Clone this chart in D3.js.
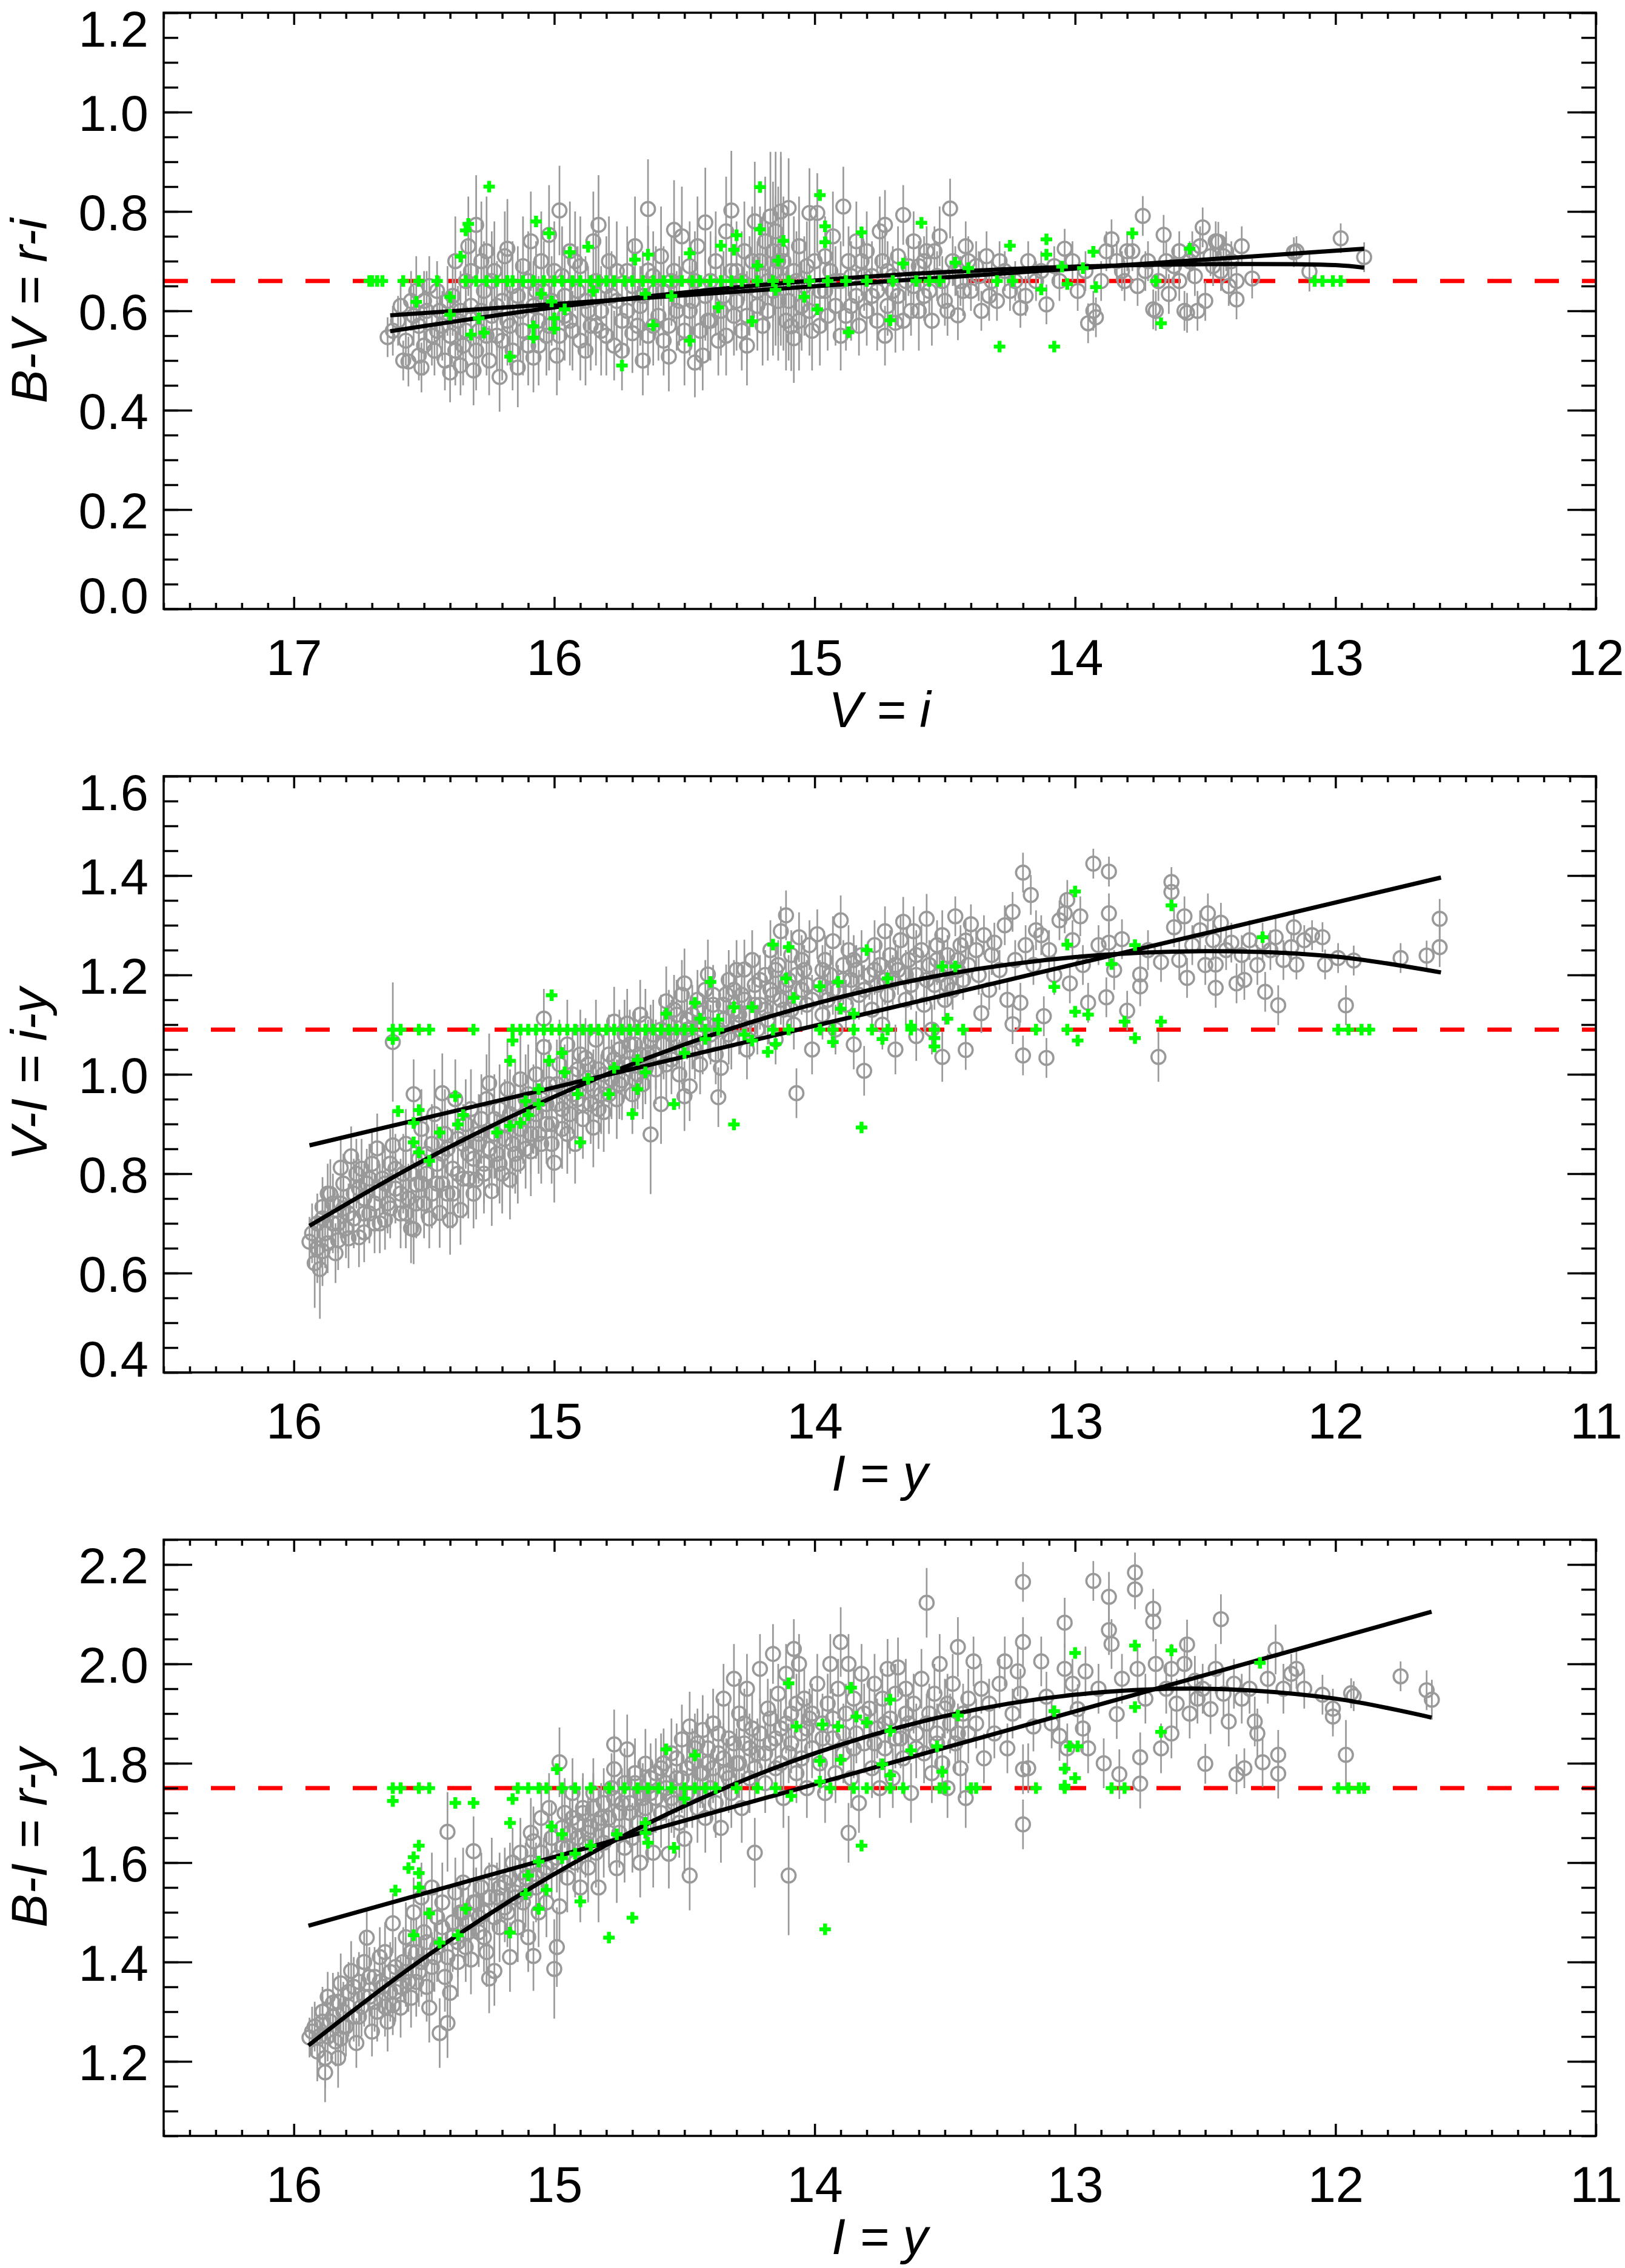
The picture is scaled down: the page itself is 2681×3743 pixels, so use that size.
<!DOCTYPE html>
<html>
<head>
<meta charset="utf-8">
<title>Colour-magnitude relations</title>
<script src="https://d3js.org/d3.v7.min.js"></script>
<style>
  body { margin: 0; background: #fff; }
  svg { display: block; }
</style>
</head>
<body>
<svg width="2681" height="3743"></svg>
<script>
// ---------- data ----------
// panel 1 : B-V = r-i  against  V = i
const xTicks1 = [17, 16, 15, 14, 13, 12];
const yTicks1 = [0.0, 0.2, 0.4, 0.6, 0.8, 1.0, 1.2];
const refLevel1 = 0.66;
const linFit1 = [[16.63,0.591],[12.89,0.725]];
const quadFit1 = [[16.63,0.559],[16.0,0.607],[15.5,0.637],[15.0,0.661],[14.5,0.678],[14.0,0.689],[13.5,0.694],[13.0,0.692],[12.89,0.687]];
// [x, y, error]
const gray1 = [
[16.64,0.547,0.04],[16.60,0.58,0.05],[16.58,0.50,0.04],[16.56,0.498,0.05],[16.55,0.62,0.06],[16.53,0.64,0.07],[16.52,0.57,0.05],[16.51,0.486,0.05],[16.50,0.53,0.06],[16.49,0.60,0.08],
[16.48,0.65,0.06],[16.46,0.52,0.05],[16.45,0.56,0.06],[16.44,0.60,0.07],[16.42,0.50,0.06],[16.40,0.476,0.06],[16.40,0.55,0.07],[16.39,0.63,0.08],[16.38,0.70,0.09],[16.37,0.58,0.07],
[16.36,0.49,0.06],[16.35,0.53,0.08],[16.34,0.66,0.08],[16.33,0.73,0.1],[16.32,0.61,0.08],[16.31,0.48,0.07],[16.30,0.773,0.1],[16.29,0.56,0.09],[16.28,0.70,0.12],[16.27,0.64,0.1],
[16.26,0.72,0.11],[16.25,0.50,0.07],[16.24,0.59,0.08],[16.23,0.68,0.1],[16.22,0.55,0.07],[16.21,0.467,0.07],[16.20,0.62,0.1],[16.19,0.71,0.09],[16.18,0.725,0.1],[16.17,0.57,0.08],
[16.16,0.65,0.09],[16.14,0.486,0.08],[16.13,0.60,0.1],[16.12,0.69,0.1],[16.10,0.53,0.08],[16.09,0.74,0.1],[16.08,0.506,0.07],[16.07,0.64,0.1],[16.06,0.58,0.09],[16.05,0.70,0.1],
[16.03,0.55,0.08],[16.02,0.753,0.1],[16.01,0.62,0.09],[15.99,0.51,0.08],[15.98,0.802,0.09],[15.97,0.67,0.1],[15.96,0.59,0.09],[15.94,0.72,0.1],[15.93,0.56,0.08],[15.91,0.64,0.09],
[15.90,0.69,0.1],[15.88,0.52,0.07],[15.87,0.60,0.09],[15.85,0.74,0.1],[15.84,0.57,0.08],[15.83,0.773,0.1],[15.82,0.56,0.09],[15.80,0.65,0.1],[15.79,0.70,0.09],[15.77,0.53,0.07],
[15.76,0.62,0.08],[15.74,0.58,0.08],[15.72,0.68,0.09],[15.70,0.555,0.08],[15.69,0.73,0.1],[15.67,0.61,0.08],[15.66,0.50,0.07],[15.64,0.805,0.1],[15.64,0.681,0.09],[15.62,0.57,0.08],
[15.61,0.64,0.09],[15.59,0.71,0.1],[15.58,0.54,0.07],[15.56,0.508,0.07],[15.55,0.66,0.09],[15.54,0.763,0.1],[15.53,0.60,0.08],[15.51,0.75,0.1],[15.50,0.56,0.07],[15.48,0.69,0.09],
[15.47,0.62,0.08],[15.46,0.496,0.07],[15.45,0.73,0.1],[15.43,0.51,0.07],[15.42,0.778,0.11],[15.41,0.58,0.08],[15.40,0.66,0.1],[15.38,0.70,0.1],[15.37,0.54,0.07],[15.35,0.63,0.09],
[15.34,0.76,0.11],[15.32,0.802,0.12],[15.31,0.59,0.08],[15.30,0.68,0.1],[15.28,0.56,0.08],[15.27,0.72,0.1],[15.26,0.53,0.08],[15.25,0.65,0.1],[15.23,0.78,0.12],[15.22,0.61,0.09],
[15.21,0.70,0.11],[15.20,0.57,0.08],[15.19,0.74,0.13],[15.18,0.66,0.12],[15.17,0.79,0.13],[15.16,0.72,0.14],[15.15,0.68,0.15],[15.15,0.76,0.16],[15.14,0.62,0.12],[15.13,0.80,0.12],
[15.13,0.72,0.19],[15.12,0.70,0.13],[15.11,0.58,0.1],[15.10,0.807,0.1],[15.09,0.569,0.09],[15.08,0.545,0.09],[15.07,0.66,0.1],[15.06,0.73,0.1],[15.05,0.61,0.09],[15.03,0.69,0.09],
[15.02,0.797,0.09],[15.01,0.56,0.08],[14.99,0.797,0.08],[14.98,0.64,0.08],[14.96,0.71,0.08],[14.95,0.59,0.07],[14.93,0.75,0.09],[14.92,0.66,0.07],[14.90,0.55,0.07],[14.89,0.81,0.08],
[14.87,0.70,0.07],[14.86,0.61,0.07],[14.84,0.74,0.08],[14.83,0.57,0.06],[14.81,0.67,0.07],[14.80,0.72,0.08],[14.78,0.63,0.06],[14.76,0.58,0.06],[14.75,0.76,0.07],[14.73,0.773,0.07],
[14.73,0.55,0.06],[14.72,0.68,0.06],[14.70,0.64,0.06],[14.69,0.576,0.06],[14.68,0.71,0.06],[14.66,0.793,0.06],[14.65,0.66,0.05],[14.63,0.60,0.05],[14.62,0.74,0.06],[14.60,0.69,0.05],
[14.60,0.60,0.08],[14.58,0.63,0.05],[14.57,0.72,0.05],[14.55,0.58,0.05],[14.53,0.67,0.05],[14.52,0.75,0.06],[14.50,0.62,0.05],[14.48,0.806,0.06],[14.47,0.70,0.05],[14.45,0.591,0.05],
[14.44,0.66,0.05],[14.42,0.73,0.05],[14.40,0.64,0.04],[14.38,0.69,0.05],[14.36,0.60,0.04],[14.34,0.71,0.05],[14.32,0.66,0.04],[14.30,0.62,0.04],[14.27,0.68,0.04],[14.25,0.64,0.04],
[14.21,0.606,0.04],[14.18,0.70,0.04],[14.15,0.66,0.04],[14.11,0.613,0.04],[14.08,0.69,0.04],[14.04,0.725,0.04],[13.99,0.64,0.04],[13.95,0.575,0.04],[13.93,0.60,0.04],[13.92,0.587,0.04],
[13.90,0.66,0.04],[13.86,0.744,0.04],[13.84,0.70,0.04],[13.82,0.68,0.04],[13.80,0.72,0.04],[13.78,0.72,0.04],[13.76,0.65,0.04],[13.74,0.791,0.04],[13.72,0.70,0.04],[13.70,0.603,0.04],
[13.69,0.60,0.04],[13.68,0.66,0.04],[13.66,0.753,0.04],[13.64,0.634,0.04],[13.62,0.69,0.04],[13.60,0.72,0.04],[13.58,0.60,0.04],[13.57,0.596,0.04],[13.56,0.70,0.04],[13.54,0.67,0.04],
[13.52,0.73,0.04],[13.51,0.768,0.04],[13.50,0.62,0.04],[13.48,0.71,0.04],[13.46,0.74,0.04],[13.45,0.739,0.04],[13.44,0.68,0.04],[13.42,0.72,0.04],[13.40,0.70,0.04],[13.38,0.623,0.04],
[13.38,0.66,0.04],[13.36,0.73,0.04],[13.32,0.665,0.04],[13.16,0.718,0.03],[13.15,0.72,0.03],[13.10,0.679,0.04],[12.98,0.746,0.03],[12.89,0.708,0.03],
[16.62,0.56,0.05],[16.59,0.61,0.05],[16.57,0.54,0.05],[16.54,0.59,0.06],[16.52,0.51,0.05],[16.50,0.62,0.06],[16.47,0.55,0.06],[16.45,0.64,0.06],[16.43,0.57,0.07],[16.41,0.62,0.07],
[16.38,0.52,0.07],[16.36,0.60,0.08],[16.34,0.56,0.08],[16.32,0.68,0.09],[16.30,0.52,0.08],[16.28,0.60,0.09],[16.26,0.55,0.08],[16.24,0.66,0.1],[16.22,0.61,0.09],[16.20,0.54,0.08],
[16.18,0.58,0.09],[16.16,0.52,0.08],[16.14,0.63,0.1],[16.12,0.56,0.09],[16.10,0.66,0.1],[16.08,0.61,0.09],[16.06,0.53,0.08],[16.04,0.64,0.1],[16.02,0.57,0.09],[16.00,0.68,0.1],
[15.98,0.55,0.09],[15.96,0.63,0.1],[15.94,0.58,0.09],[15.92,0.70,0.1],[15.90,0.54,0.08],[15.88,0.62,0.09],[15.86,0.57,0.09],[15.84,0.66,0.1],[15.82,0.60,0.09],[15.80,0.55,0.08],
[15.78,0.63,0.09],[15.76,0.68,0.1],[15.74,0.52,0.08],[15.72,0.60,0.09],[15.70,0.65,0.09],[15.68,0.57,0.08],[15.66,0.63,0.09],[15.64,0.55,0.08],[15.62,0.67,0.09],[15.60,0.59,0.09],
[15.58,0.64,0.09],[15.56,0.57,0.08],[15.54,0.68,0.1],[15.52,0.62,0.09],[15.50,0.53,0.08],[15.48,0.60,0.09],[15.46,0.66,0.1],[15.44,0.56,0.08],[15.42,0.63,0.09],[15.40,0.58,0.08],
[15.38,0.65,0.1],[15.36,0.60,0.09],[15.34,0.55,0.08],[15.32,0.68,0.1],[15.30,0.62,0.1],[15.28,0.66,0.1],[15.26,0.59,0.09],[15.24,0.70,0.11],[15.22,0.64,0.1],[15.20,0.67,0.12],
[15.18,0.60,0.1],[15.16,0.64,0.13],[15.14,0.70,0.15],[15.12,0.66,0.14],[15.10,0.62,0.12],[15.08,0.68,0.11],[15.06,0.58,0.1],[15.04,0.65,0.1],[15.02,0.60,0.09],[15.00,0.70,0.09],
[14.98,0.57,0.08],[14.96,0.64,0.08],[14.94,0.68,0.08],[14.92,0.61,0.08],[14.90,0.66,0.08],[14.88,0.59,0.07],[14.86,0.67,0.07],[14.84,0.63,0.07],[14.82,0.70,0.07],[14.80,0.60,0.07],
[14.78,0.67,0.07],[14.76,0.64,0.07],[14.74,0.70,0.06],[14.72,0.61,0.06],[14.70,0.67,0.06],[14.68,0.63,0.06],[14.66,0.58,0.06],[14.64,0.69,0.06],[14.62,0.65,0.06],[14.58,0.70,0.05],
[14.56,0.64,0.05],[14.54,0.72,0.05],[14.51,0.66,0.05],[14.49,0.60,0.05],[14.46,0.68,0.05],[14.43,0.64,0.05],[14.41,0.70,0.05],[14.37,0.67,0.05],[14.33,0.63,0.05],[14.29,0.70,0.04],
[14.23,0.66,0.04],[14.19,0.63,0.04],[14.13,0.68,0.04],[14.06,0.66,0.04],[14.01,0.70,0.04],[13.96,0.68,0.04],[13.88,0.72,0.04],[13.81,0.66,0.04],[13.73,0.68,0.04],[13.65,0.70,0.04],
[13.60,0.66,0.04],[13.55,0.72,0.04],[13.53,0.60,0.04],[13.47,0.69,0.04],[13.43,0.71,0.04],[13.41,0.65,0.04]
];
// [x, y]
const green1 = [
[16.71,0.66],[16.70,0.66],[16.68,0.66],[16.66,0.66],[16.58,0.66],[16.52,0.66],[16.45,0.66],[16.34,0.66],[16.30,0.66],[16.26,0.66],
[16.22,0.66],[16.18,0.66],[16.16,0.66],[16.12,0.66],[16.08,0.66],[16.04,0.66],[16.00,0.66],[15.97,0.66],[15.93,0.66],[15.90,0.66],
[15.86,0.66],[15.83,0.66],[15.80,0.66],[15.77,0.66],[15.73,0.66],[15.70,0.66],[15.66,0.66],[15.62,0.66],[15.58,0.66],[15.55,0.66],
[15.51,0.66],[15.47,0.66],[15.44,0.66],[15.40,0.66],[15.36,0.66],[15.32,0.66],[15.28,0.66],[15.22,0.66],[15.16,0.66],[15.10,0.66],
[15.02,0.66],[14.95,0.66],[14.88,0.66],[14.80,0.66],[14.70,0.66],[14.61,0.66],[14.56,0.66],[14.52,0.66],[14.30,0.66],[14.24,0.66],
[13.69,0.66],[13.08,0.66],[13.05,0.66],[13.01,0.66],[12.98,0.66],
[16.25,0.85],[16.33,0.775],[16.34,0.762],[16.07,0.78],[16.02,0.756],[16.36,0.709],[15.94,0.718],[15.87,0.729],[15.21,0.849],[14.98,0.833],
[15.30,0.752],[15.21,0.764],[15.36,0.731],[15.31,0.723],[15.12,0.741],[14.96,0.77],[14.96,0.738],[14.82,0.758],[14.59,0.777],[15.48,0.716],
[15.69,0.703],[15.64,0.713],[15.22,0.691],[15.14,0.701],[14.66,0.695],[16.53,0.618],[16.40,0.592],[16.40,0.628],[16.29,0.585],[16.32,0.552],
[16.27,0.556],[16.08,0.569],[16.08,0.546],[16.00,0.585],[16.00,0.564],[15.96,0.603],[16.17,0.508],[16.05,0.634],[16.01,0.619],[15.85,0.64],
[15.65,0.634],[15.62,0.571],[15.55,0.63],[15.48,0.54],[15.37,0.607],[15.24,0.579],[15.15,0.642],[15.04,0.628],[14.99,0.603],[14.87,0.557],
[14.71,0.581],[14.11,0.744],[14.11,0.713],[14.25,0.731],[13.78,0.756],[13.93,0.719],[13.56,0.725],[14.46,0.697],[14.41,0.686],[14.05,0.689],
[13.97,0.686],[14.13,0.643],[14.03,0.654],[13.92,0.648],[13.67,0.575],[14.29,0.528],[14.08,0.528],[15.74,0.49]
];

// panel 2 : V-I = i-y  against  I = y
const xTicks2 = [16, 15, 14, 13, 12, 11];
const yTicks2 = [0.4, 0.6, 0.8, 1.0, 1.2, 1.4, 1.6];
const refLevel2 = 1.09;
const linFit2 = [[15.94,0.857],[11.595,1.396]];
const quadFit2 = [[15.94,0.695],[15.5,0.827],[15.0,0.955],[14.5,1.060],[14.0,1.142],[13.5,1.201],[13.0,1.236],[12.5,1.248],[12.0,1.237],[11.595,1.205]];
const gray2 = [
[15.94,0.663,0.05],[15.92,0.62,0.09],[15.91,0.70,0.06],[15.90,0.608,0.1],[15.89,0.644,0.07],[15.89,0.733,0.06],[15.88,0.68,0.07],[15.87,0.76,0.06],[15.86,0.759,0.07],[15.85,0.70,0.06],
[15.84,0.64,0.06],[15.83,0.666,0.06],[15.82,0.812,0.06],[15.82,0.74,0.07],[15.81,0.78,0.06],[15.80,0.69,0.06],[15.79,0.72,0.06],[15.78,0.835,0.06],[15.77,0.76,0.07],[15.76,0.80,0.07],
[15.75,0.672,0.06],[15.74,0.81,0.06],[15.73,0.682,0.06],[15.73,0.75,0.07],[15.72,0.78,0.07],[15.71,0.72,0.06],[15.70,0.82,0.07],[15.69,0.70,0.06],[15.68,0.851,0.07],[15.67,0.76,0.06],
[15.66,0.79,0.07],[15.65,0.707,0.06],[15.64,0.74,0.06],[15.63,0.82,0.07],[15.62,1.065,0.12],[15.62,0.857,0.07],[15.61,0.77,0.07],[15.59,0.72,0.07],[15.58,0.80,0.08],[15.57,0.86,0.07],
[15.56,0.75,0.07],[15.55,0.69,0.07],[15.54,0.96,0.07],[15.54,0.688,0.07],[15.53,0.778,0.08],[15.52,0.83,0.08],[15.51,0.89,0.08],[15.50,0.74,0.07],[15.49,0.80,0.08],[15.48,0.71,0.06],
[15.47,0.86,0.08],[15.46,0.92,0.09],[15.45,0.78,0.07],[15.44,0.721,0.07],[15.43,0.962,0.08],[15.43,0.84,0.08],[15.42,0.88,0.09],[15.41,0.76,0.07],[15.40,0.707,0.07],[15.39,0.81,0.08],
[15.38,0.95,0.08],[15.37,0.87,0.09],[15.36,0.727,0.07],[15.35,0.79,0.08],[15.34,0.90,0.09],[15.33,0.84,0.08],[15.32,0.93,0.08],[15.31,0.76,0.07],[15.30,0.788,0.08],[15.29,0.86,0.08],
[15.28,0.91,0.09],[15.27,0.82,0.08],[15.26,0.95,0.09],[15.25,0.982,0.1],[15.24,0.765,0.07],[15.23,0.88,0.09],[15.22,0.84,0.08],[15.21,0.93,0.09],[15.20,0.80,0.08],[15.19,0.90,0.09],
[15.18,0.97,0.1],[15.17,0.788,0.08],[15.16,0.86,0.09],[15.15,0.94,0.09],[15.14,0.82,0.08],[15.13,0.99,0.1],[15.12,0.91,0.09],[15.11,0.85,0.08],[15.10,0.96,0.1],[15.09,0.845,0.09],
[15.08,0.93,0.09],[15.07,1.00,0.1],[15.06,0.88,0.08],[15.05,0.95,0.09],[15.04,1.112,0.06],[15.04,1.055,0.07],[15.03,0.90,0.08],[15.02,0.98,0.09],[15.01,0.86,0.08],[15.00,0.822,0.08],
[14.99,0.94,0.09],[14.98,1.02,0.09],[14.97,0.89,0.08],[14.96,0.97,0.09],[14.95,1.06,0.09],[14.94,0.92,0.08],[14.93,1.00,0.09],[14.92,0.86,0.08],[14.91,0.95,0.08],[14.90,1.04,0.09],
[14.89,0.91,0.08],[14.88,1.033,0.08],[14.87,0.98,0.08],[14.86,0.94,0.08],[14.85,0.893,0.08],[14.84,1.07,0.08],[14.83,1.01,0.08],[14.82,0.96,0.08],[14.81,0.924,0.08],[14.79,1.04,0.08],
[14.78,0.99,0.08],[14.77,1.106,0.07],[14.76,0.95,0.08],[14.75,1.05,0.08],[14.74,0.988,0.08],[14.73,1.08,0.07],[14.72,1.102,0.07],[14.71,1.02,0.07],[14.70,0.96,0.08],[14.69,1.06,0.07],
[14.68,1.00,0.07],[14.67,1.12,0.07],[14.66,0.98,0.07],[14.65,1.102,0.07],[14.64,1.04,0.07],[14.63,0.879,0.12],[14.62,1.08,0.07],[14.61,1.01,0.07],[14.59,0.94,0.08],[14.58,1.06,0.07],
[14.57,1.147,0.07],[14.56,1.10,0.07],[14.55,1.03,0.07],[14.54,1.13,0.07],[14.53,1.07,0.06],[14.52,1.00,0.07],[14.51,1.16,0.07],[14.50,1.183,0.07],[14.50,0.956,0.07],[14.49,1.09,0.06],
[14.48,0.976,0.07],[14.47,1.12,0.06],[14.46,1.05,0.06],[14.45,1.15,0.06],[14.44,1.02,0.06],[14.43,1.10,0.06],[14.42,1.17,0.06],[14.41,1.201,0.07],[14.40,1.08,0.06],[14.39,1.14,0.06],
[14.38,1.04,0.06],[14.37,0.954,0.06],[14.36,1.013,0.06],[14.35,1.11,0.06],[14.34,1.161,0.06],[14.33,1.19,0.06],[14.32,1.07,0.06],[14.31,1.13,0.06],[14.30,1.21,0.06],[14.29,1.10,0.06],
[14.28,1.16,0.06],[14.27,1.211,0.06],[14.26,1.05,0.06],[14.25,1.12,0.06],[14.24,1.23,0.06],[14.23,1.18,0.06],[14.22,1.09,0.05],[14.21,1.14,0.05],[14.19,1.20,0.05],[14.18,1.11,0.05],
[14.17,1.25,0.06],[14.16,1.16,0.05],[14.15,1.07,0.05],[14.14,1.22,0.05],[14.13,1.288,0.05],[14.12,1.13,0.05],[14.11,1.32,0.05],[14.10,1.19,0.05],[14.09,1.24,0.05],[14.08,1.10,0.05],
[14.07,0.962,0.05],[14.06,1.276,0.05],[14.05,1.17,0.05],[14.04,1.21,0.05],[14.03,1.14,0.05],[14.02,1.26,0.05],[14.01,1.05,0.05],[13.99,1.282,0.05],[13.98,1.18,0.05],[13.97,1.12,0.05],
[13.96,1.23,0.05],[13.95,1.15,0.05],[13.94,1.20,0.05],[13.93,1.268,0.05],[13.92,1.09,0.05],[13.91,1.17,0.05],[13.90,1.31,0.05],[13.89,1.22,0.05],[13.88,1.14,0.05],[13.87,1.25,0.05],
[13.86,1.19,0.05],[13.85,1.06,0.05],[13.84,1.21,0.05],[13.83,1.16,0.05],[13.82,1.24,0.05],[13.81,1.007,0.05],[13.79,1.20,0.05],[13.78,1.13,0.05],[13.77,1.26,0.05],[13.76,1.18,0.05],
[13.75,1.22,0.05],[13.74,1.10,0.05],[13.73,1.288,0.05],[13.72,1.16,0.05],[13.71,1.24,0.05],[13.70,1.19,0.05],[13.69,1.05,0.05],[13.68,1.21,0.05],[13.67,1.27,0.05],[13.66,1.307,0.05],
[13.65,1.15,0.05],[13.64,1.23,0.05],[13.63,1.18,0.05],[13.62,1.288,0.05],[13.61,1.077,0.05],[13.61,1.20,0.05],[13.59,1.25,0.05],[13.58,1.14,0.05],[13.57,1.313,0.05],[13.56,1.22,0.05],
[13.55,1.09,0.05],[13.54,1.18,0.05],[13.53,1.26,0.05],[13.52,1.20,0.05],[13.51,1.28,0.05],[13.51,1.035,0.05],[13.50,1.15,0.05],[13.49,1.24,0.04],[13.48,1.21,0.04],[13.47,1.17,0.04],
[13.46,1.318,0.04],[13.45,1.23,0.04],[13.44,1.26,0.04],[13.43,1.19,0.04],[13.42,1.269,0.04],[13.42,1.049,0.04],[13.41,1.22,0.04],[13.40,1.302,0.04],[13.38,1.25,0.04],[13.37,1.20,0.04],
[13.36,1.123,0.04],[13.35,1.28,0.04],[13.33,1.17,0.04],[13.32,1.24,0.04],[13.31,1.265,0.04],[13.29,1.21,0.04],[13.27,1.30,0.04],[13.26,1.15,0.04],[13.24,1.327,0.04],[13.24,1.101,0.04],
[13.23,1.23,0.04],[13.21,1.144,0.04],[13.20,1.406,0.04],[13.20,1.038,0.04],[13.19,1.26,0.04],[13.17,1.361,0.04],[13.16,1.22,0.04],[13.15,1.29,0.04],[13.13,1.28,0.04],[13.12,1.117,0.04],
[13.11,1.033,0.04],[13.10,1.25,0.04],[13.08,1.20,0.04],[13.06,1.31,0.04],[13.04,1.324,0.04],[13.03,1.351,0.04],[13.02,1.183,0.04],[13.01,1.27,0.04],[12.98,1.318,0.04],[12.97,1.22,0.04],
[12.95,1.144,0.04],[12.93,1.424,0.03],[12.91,1.26,0.04],[12.88,1.155,0.04],[12.87,1.408,0.03],[12.87,1.324,0.04],[12.87,1.265,0.04],[12.85,1.21,0.04],[12.82,1.272,0.04],[12.80,1.128,0.04],
[12.75,1.201,0.04],[12.75,1.177,0.04],[12.72,1.25,0.04],[12.68,1.035,0.05],[12.67,1.226,0.04],[12.63,1.387,0.03],[12.63,1.367,0.03],[12.62,1.296,0.04],[12.60,1.23,0.04],[12.58,1.318,0.04],
[12.57,1.194,0.04],[12.55,1.26,0.04],[12.52,1.29,0.04],[12.50,1.22,0.04],[12.49,1.324,0.04],[12.47,1.27,0.04],[12.46,1.221,0.04],[12.46,1.174,0.04],[12.44,1.305,0.04],[12.42,1.25,0.04],
[12.40,1.265,0.04],[12.38,1.183,0.04],[12.36,1.24,0.04],[12.35,1.19,0.04],[12.33,1.27,0.04],[12.30,1.22,0.04],[12.28,1.265,0.04],[12.27,1.166,0.04],[12.25,1.25,0.04],[12.23,1.276,0.04],
[12.22,1.139,0.04],[12.20,1.23,0.04],[12.17,1.256,0.03],[12.16,1.296,0.03],[12.15,1.221,0.03],[12.12,1.27,0.03],[12.09,1.28,0.03],[12.05,1.276,0.03],[12.04,1.221,0.03],[11.99,1.234,0.03],
[11.96,1.139,0.04],[11.93,1.229,0.03],[11.75,1.234,0.03],[11.65,1.239,0.03],[11.60,1.256,0.04],[11.60,1.313,0.04],
[15.93,0.68,0.06],[15.91,0.65,0.07],[15.89,0.71,0.06],[15.87,0.66,0.06],[15.85,0.74,0.06],[15.83,0.70,0.06],[15.81,0.73,0.06],[15.79,0.67,0.06],[15.77,0.71,0.06],[15.75,0.77,0.06],
[15.73,0.72,0.06],[15.71,0.79,0.07],[15.69,0.74,0.06],[15.67,0.70,0.06],[15.65,0.78,0.07],[15.63,0.73,0.06],[15.61,0.81,0.07],[15.59,0.76,0.07],[15.57,0.72,0.07],[15.55,0.80,0.07],
[15.53,0.74,0.07],[15.51,0.78,0.07],[15.49,0.84,0.08],[15.47,0.76,0.07],[15.45,0.82,0.08],[15.43,0.78,0.07],[15.41,0.85,0.08],[15.39,0.76,0.07],[15.37,0.80,0.08],[15.35,0.86,0.08],
[15.33,0.79,0.08],[15.31,0.83,0.08],[15.29,0.88,0.08],[15.27,0.80,0.08],[15.25,0.85,0.08],[15.23,0.91,0.09],[15.21,0.82,0.08],[15.19,0.87,0.08],[15.17,0.92,0.09],[15.15,0.84,0.08],
[15.13,0.89,0.09],[15.11,0.95,0.09],[15.09,0.88,0.08],[15.07,0.92,0.09],[15.05,0.86,0.08],[15.03,0.94,0.09],[15.01,0.90,0.08],[14.99,0.98,0.09],[14.97,0.93,0.08],[14.95,0.88,0.08],
[14.93,0.96,0.08],[14.91,1.01,0.09],[14.89,0.94,0.08],[14.87,1.02,0.08],[14.85,0.97,0.08],[14.83,0.93,0.08],[14.81,1.00,0.08],[14.79,0.96,0.08],[14.77,1.03,0.07],[14.75,0.98,0.07],
[14.73,1.02,0.07],[14.71,1.06,0.07],[14.69,0.99,0.07],[14.67,1.04,0.07],[14.65,1.01,0.07],[14.63,1.07,0.07],[14.61,1.04,0.07],[14.59,1.09,0.07],[14.57,1.02,0.07],[14.55,1.08,0.07],
[14.53,1.12,0.07],[14.51,1.05,0.07],[14.49,1.11,0.06],[14.47,1.07,0.06],[14.45,1.13,0.06],[14.43,1.06,0.06],[14.41,1.10,0.06],[14.39,1.16,0.06],[14.37,1.09,0.06],[14.35,1.14,0.06],
[14.33,1.08,0.06],[14.31,1.17,0.06],[14.29,1.12,0.06],[14.27,1.15,0.06],[14.25,1.09,0.06],[14.23,1.14,0.06],[14.21,1.19,0.05],[14.19,1.13,0.05],[14.17,1.17,0.05],[14.15,1.21,0.05],
[14.13,1.15,0.05],[14.11,1.18,0.05],[14.09,1.13,0.05],[14.07,1.20,0.05],[14.05,1.23,0.05],[14.03,1.18,0.05],[14.01,1.15,0.05],[13.97,1.21,0.05],[13.93,1.17,0.05],[13.89,1.19,0.05],
[13.85,1.23,0.05],[13.81,1.17,0.05],[13.77,1.21,0.05],[13.73,1.19,0.05],[13.69,1.22,0.05],[13.65,1.20,0.05],[13.61,1.24,0.05],[13.57,1.19,0.05],[13.53,1.23,0.05],[13.49,1.18,0.04],
[13.45,1.21,0.04]
];
const green2 = [
[15.62,1.09],[15.59,1.09],[15.52,1.09],[15.48,1.09],[15.31,1.09],[15.16,1.09],[15.13,1.09],[15.10,1.09],[15.07,1.09],[15.04,1.09],
[15.01,1.09],[14.98,1.09],[14.95,1.09],[14.92,1.09],[14.89,1.09],[14.86,1.09],[14.83,1.09],[14.80,1.09],[14.77,1.09],[14.74,1.09],
[14.71,1.09],[14.68,1.09],[14.65,1.09],[14.62,1.09],[14.59,1.09],[14.56,1.09],[14.53,1.09],[14.50,1.09],[14.47,1.09],[14.42,1.09],
[14.37,1.09],[14.16,1.09],[14.10,1.09],[13.98,1.09],[13.93,1.09],[13.85,1.09],[13.78,1.09],[13.72,1.09],[13.63,1.09],[13.54,1.09],
[13.43,1.09],[13.15,1.09],[13.03,1.09],[11.99,1.09],[11.95,1.09],[11.90,1.09],[11.87,1.09],
[15.62,1.071],[15.01,1.159],[14.16,1.261],[14.10,1.256],[13.80,1.25],[14.11,1.193],[14.40,1.186],[13.91,1.186],[13.72,1.193],[13.98,1.177],
[14.46,1.144],[14.08,1.154],[14.31,1.135],[14.24,1.135],[14.57,1.122],[14.37,1.110],[13.90,1.132],[13.85,1.122],[14.44,1.112],[14.27,1.080],
[14.24,1.068],[14.15,1.061],[14.18,1.045],[13.93,1.065],[13.74,1.071],[14.42,1.071],[14.50,1.043],[14.68,1.029],[14.77,1.013],[14.65,1.004],
[15.16,1.068],[15.17,1.027],[15.02,1.027],[14.97,1.043],[14.96,1.004],[14.87,0.991],[15.06,0.970],[15.11,0.946],[15.06,0.940],[14.91,0.960],
[14.79,0.960],[14.68,0.970],[14.70,0.920],[14.54,0.940],[14.31,0.899],[13.82,0.893],[14.90,0.863],[15.10,0.918],[15.13,0.902],[15.17,0.896],
[15.22,0.883],[15.38,0.956],[15.35,0.918],[15.37,0.899],[15.44,0.883],[15.52,0.928],[15.54,0.902],[15.60,0.926],[15.54,0.863],[15.52,0.843],
[15.48,0.826],[13.00,1.368],[12.63,1.340],[12.28,1.276],[12.77,1.260],[13.03,1.261],[12.86,1.222],[13.51,1.217],[13.46,1.217],[13.08,1.176],
[13.00,1.126],[12.95,1.120],[12.81,1.106],[12.67,1.106],[13.49,1.112],[13.63,1.098],[13.54,1.073],[13.54,1.056],[12.99,1.068],[12.77,1.073]
];

// panel 3 : B-I = r-y  against  I = y
const xTicks3 = [16, 15, 14, 13, 12, 11];
const yTicks3 = [1.2, 1.4, 1.6, 1.8, 2.0, 2.2];
const refLevel3 = 1.75;
const linFit3 = [[15.944,1.473],[11.631,2.105]];
const quadFit3 = [[15.944,1.232],[15.5,1.408],[15.0,1.577],[14.5,1.714],[14.0,1.820],[13.5,1.895],[13.0,1.938],[12.5,1.950],[12.0,1.930],[11.631,1.892]];
const gray3 = [
[15.94,1.248,0.04],[15.92,1.27,0.05],[15.90,1.251,0.06],[15.89,1.30,0.05],[15.88,1.178,0.06],[15.88,1.207,0.06],[15.87,1.33,0.05],[15.86,1.28,0.05],[15.85,1.318,0.06],[15.84,1.24,0.05],
[15.83,1.207,0.06],[15.82,1.246,0.05],[15.82,1.357,0.06],[15.81,1.30,0.06],[15.80,1.27,0.06],[15.79,1.34,0.06],[15.78,1.382,0.06],[15.77,1.29,0.05],[15.76,1.237,0.05],[15.75,1.36,0.06],
[15.74,1.31,0.06],[15.73,1.40,0.06],[15.72,1.449,0.06],[15.71,1.33,0.06],[15.70,1.26,0.05],[15.69,1.37,0.06],[15.68,1.30,0.06],[15.67,1.41,0.06],[15.66,1.35,0.06],[15.65,1.42,0.06],
[15.64,1.28,0.06],[15.63,1.38,0.06],[15.62,1.478,0.06],[15.62,1.313,0.06],[15.61,1.34,0.06],[15.59,1.308,0.06],[15.58,1.40,0.07],[15.57,1.45,0.07],[15.56,1.36,0.06],[15.55,1.328,0.06],
[15.54,1.50,0.07],[15.53,1.42,0.07],[15.52,1.38,0.07],[15.51,1.53,0.07],[15.50,1.46,0.07],[15.49,1.35,0.07],[15.48,1.308,0.07],[15.47,1.55,0.07],[15.46,1.41,0.07],[15.45,1.49,0.07],
[15.44,1.257,0.07],[15.43,1.52,0.08],[15.42,1.37,0.07],[15.41,1.662,0.08],[15.41,1.277,0.07],[15.40,1.338,0.07],[15.39,1.45,0.07],[15.38,1.54,0.07],[15.37,1.40,0.07],[15.36,1.50,0.07],
[15.35,1.56,0.07],[15.34,1.43,0.07],[15.33,1.48,0.07],[15.32,1.405,0.07],[15.31,1.623,0.07],[15.30,1.52,0.07],[15.29,1.46,0.07],[15.28,1.55,0.07],[15.27,1.50,0.07],[15.26,1.42,0.07],
[15.25,1.367,0.07],[15.24,1.58,0.07],[15.23,1.382,0.07],[15.22,1.53,0.07],[15.21,1.47,0.07],[15.19,1.56,0.07],[15.18,1.50,0.07],[15.17,1.41,0.07],[15.16,1.60,0.07],[15.15,1.54,0.07],
[15.14,1.47,0.07],[15.13,1.62,0.07],[15.12,1.52,0.07],[15.11,1.57,0.07],[15.10,1.45,0.07],[15.09,1.66,0.07],[15.08,1.412,0.07],[15.08,1.643,0.07],[15.07,1.55,0.07],[15.06,1.50,0.07],
[15.05,1.69,0.07],[15.04,1.58,0.07],[15.03,1.52,0.07],[15.02,1.71,0.07],[15.01,1.60,0.07],[15.00,1.386,0.1],[14.99,1.43,0.08],[14.98,1.512,0.07],[14.98,1.802,0.07],[14.97,1.63,0.07],
[14.96,1.70,0.07],[14.95,1.57,0.07],[14.94,1.66,0.07],[14.93,1.74,0.07],[14.92,1.60,0.07],[14.91,1.68,0.07],[14.90,1.55,0.07],[14.89,1.71,0.07],[14.88,1.64,0.07],[14.87,1.59,0.07],
[14.86,1.672,0.07],[14.85,1.74,0.07],[14.84,1.62,0.07],[14.83,1.55,0.07],[14.82,1.69,0.07],[14.81,1.64,0.07],[14.79,1.69,0.07],[14.78,1.75,0.07],[14.77,1.838,0.07],[14.77,1.788,0.07],
[14.76,1.589,0.07],[14.75,1.66,0.07],[14.74,1.72,0.07],[14.73,1.63,0.07],[14.72,1.828,0.07],[14.71,1.70,0.07],[14.70,1.65,0.07],[14.69,1.76,0.07],[14.68,1.68,0.07],[14.67,1.60,0.07],
[14.66,1.73,0.07],[14.65,1.799,0.07],[14.64,1.67,0.07],[14.63,1.74,0.07],[14.62,1.62,0.07],[14.61,1.78,0.07],[14.59,1.70,0.07],[14.58,1.80,0.07],[14.57,1.75,0.07],[14.56,1.618,0.07],
[14.55,1.82,0.07],[14.54,1.72,0.07],[14.53,1.77,0.07],[14.52,1.68,0.07],[14.51,1.848,0.07],[14.50,1.648,0.07],[14.49,1.79,0.07],[14.48,1.874,0.07],[14.48,1.574,0.07],[14.47,1.74,0.07],
[14.46,1.83,0.07],[14.45,1.71,0.07],[14.44,1.78,0.07],[14.43,1.867,0.07],[14.42,1.69,0.07],[14.41,1.80,0.07],[14.40,1.75,0.07],[14.39,1.88,0.07],[14.38,1.72,0.07],[14.37,1.82,0.07],
[14.36,1.67,0.07],[14.35,1.93,0.07],[14.34,1.78,0.07],[14.33,1.85,0.07],[14.32,1.74,0.07],[14.31,1.97,0.07],[14.30,1.80,0.07],[14.29,1.90,0.07],[14.28,1.71,0.07],[14.27,1.84,0.07],
[14.26,1.95,0.07],[14.25,1.77,0.07],[14.24,1.87,0.07],[14.23,1.62,0.07],[14.22,1.82,0.07],[14.21,1.99,0.07],[14.19,1.76,0.06],[14.18,1.91,0.06],[14.17,1.84,0.06],[14.16,2.02,0.06],
[14.15,1.79,0.06],[14.14,1.94,0.06],[14.13,1.87,0.06],[14.12,1.73,0.06],[14.11,1.98,0.06],[14.10,1.574,0.12],[14.10,1.82,0.06],[14.09,1.90,0.06],[14.08,2.03,0.06],[14.07,1.78,0.06],
[14.06,2.00,0.06],[14.05,1.86,0.06],[14.04,1.93,0.06],[14.03,1.75,0.06],[14.02,1.89,0.06],[14.01,1.83,0.06],[13.99,1.96,0.06],[13.98,1.80,0.06],[13.97,1.88,0.06],[13.96,1.74,0.06],
[13.95,1.92,0.06],[13.94,2.00,0.06],[13.93,1.85,0.06],[13.92,1.78,0.06],[13.91,1.95,0.06],[13.90,2.044,0.07],[13.89,1.82,0.06],[13.88,1.90,0.06],[13.87,1.66,0.06],[13.87,2.00,0.06],
[13.86,1.77,0.06],[13.85,1.93,0.06],[13.84,1.86,0.06],[13.83,1.72,0.06],[13.82,1.98,0.06],[13.81,1.84,0.06],[13.79,1.91,0.06],[13.78,1.79,0.06],[13.77,1.96,0.06],[13.76,1.87,0.06],
[13.75,1.75,0.06],[13.74,1.93,0.06],[13.73,1.83,0.06],[13.72,1.99,0.06],[13.71,1.89,0.06],[13.70,1.77,0.06],[13.69,1.94,0.06],[13.68,1.993,0.06],[13.67,1.85,0.06],[13.66,1.81,0.06],
[13.65,1.95,0.06],[13.64,1.88,0.06],[13.63,1.74,0.06],[13.62,1.92,0.06],[13.61,1.86,0.06],[13.59,1.97,0.06],[13.58,1.82,0.06],[13.57,2.123,0.07],[13.56,1.90,0.06],[13.55,1.78,0.06],
[13.54,1.94,0.06],[13.53,1.86,0.06],[13.52,2.00,0.06],[13.51,1.80,0.06],[13.50,1.91,0.06],[13.49,1.75,0.06],[13.48,1.88,0.06],[13.47,1.96,0.06],[13.46,1.84,0.06],[13.45,2.034,0.06],
[13.44,1.79,0.06],[13.43,1.90,0.06],[13.42,1.73,0.06],[13.41,1.86,0.06],[13.39,2.005,0.05],[13.38,1.88,0.05],[13.36,1.95,0.05],[13.35,1.81,0.05],[13.33,1.92,0.05],[13.31,1.86,0.05],
[13.29,1.96,0.05],[13.27,2.005,0.05],[13.26,1.83,0.05],[13.24,1.90,0.05],[13.22,1.985,0.05],[13.21,1.94,0.05],[13.20,2.165,0.04],[13.20,2.044,0.05],[13.20,1.677,0.05],[13.20,1.788,0.05],
[13.18,1.79,0.05],[13.16,1.874,0.05],[13.13,2.005,0.05],[13.11,1.934,0.05],[13.09,1.88,0.05],[13.06,1.855,0.05],[13.04,2.083,0.05],[13.04,1.99,0.05],[13.03,1.83,0.05],[13.01,1.96,0.05],
[12.99,1.909,0.05],[12.97,1.87,0.05],[12.96,1.985,0.05],[12.95,1.83,0.05],[12.93,2.167,0.04],[12.91,1.95,0.05],[12.89,1.80,0.05],[12.87,2.135,0.05],[12.87,2.068,0.05],[12.86,2.04,0.05],
[12.84,1.899,0.05],[12.83,1.778,0.05],[12.82,1.97,0.05],[12.77,2.184,0.04],[12.77,2.15,0.04],[12.76,1.99,0.05],[12.75,1.812,0.05],[12.75,1.759,0.05],[12.73,1.93,0.05],[12.70,2.111,0.04],
[12.70,2.085,0.04],[12.69,2.00,0.05],[12.67,1.83,0.05],[12.65,1.95,0.05],[12.63,1.99,0.05],[12.63,1.86,0.05],[12.61,1.92,0.05],[12.58,2.00,0.05],[12.57,2.039,0.05],[12.56,1.90,0.05],
[12.54,1.966,0.05],[12.53,1.93,0.05],[12.51,1.95,0.05],[12.50,1.799,0.04],[12.48,1.909,0.05],[12.46,1.99,0.05],[12.44,2.09,0.05],[12.43,1.94,0.05],[12.41,1.884,0.05],[12.39,1.96,0.05],
[12.38,1.778,0.04],[12.36,1.93,0.05],[12.35,1.79,0.04],[12.33,1.95,0.05],[12.31,1.884,0.05],[12.30,1.86,0.05],[12.28,1.802,0.05],[12.26,1.97,0.05],[12.23,2.029,0.05],[12.22,1.817,0.05],
[12.22,1.779,0.05],[12.20,1.95,0.05],[12.17,1.98,0.04],[12.15,1.99,0.04],[12.12,1.95,0.04],[12.05,1.938,0.04],[12.01,1.894,0.04],[12.01,1.91,0.04],[11.96,1.817,0.07],[11.94,1.941,0.03],
[11.93,1.935,0.03],[11.75,1.975,0.03],[11.65,1.947,0.04],[11.63,1.928,0.04],
[15.93,1.26,0.05],[15.91,1.22,0.06],[15.89,1.28,0.05],[15.87,1.25,0.05],[15.85,1.29,0.05],[15.83,1.32,0.06],[15.81,1.27,0.05],[15.79,1.31,0.06],[15.77,1.35,0.06],[15.75,1.29,0.06],
[15.73,1.33,0.06],[15.71,1.37,0.06],[15.69,1.32,0.06],[15.67,1.36,0.06],[15.65,1.31,0.06],[15.63,1.34,0.06],[15.61,1.39,0.06],[15.59,1.35,0.06],[15.57,1.38,0.07],[15.55,1.42,0.07],
[15.53,1.36,0.07],[15.51,1.40,0.07],[15.49,1.44,0.07],[15.47,1.39,0.07],[15.45,1.43,0.07],[15.43,1.47,0.07],[15.41,1.41,0.07],[15.39,1.48,0.07],[15.37,1.44,0.07],[15.35,1.50,0.07],
[15.33,1.46,0.07],[15.31,1.52,0.07],[15.29,1.49,0.07],[15.27,1.45,0.07],[15.25,1.53,0.07],[15.23,1.49,0.07],[15.21,1.55,0.07],[15.19,1.51,0.07],[15.17,1.57,0.07],[15.15,1.53,0.07],
[15.13,1.58,0.07],[15.11,1.54,0.07],[15.09,1.60,0.07],[15.07,1.57,0.07],[15.05,1.62,0.07],[15.03,1.59,0.07],[15.01,1.65,0.07],[14.99,1.61,0.07],[14.97,1.67,0.07],[14.95,1.63,0.07],
[14.93,1.69,0.07],[14.91,1.65,0.07],[14.89,1.70,0.07],[14.87,1.66,0.07],[14.85,1.71,0.07],[14.83,1.68,0.07],[14.81,1.72,0.07],[14.79,1.66,0.07],[14.77,1.73,0.07],[14.75,1.70,0.07],
[14.73,1.76,0.07],[14.71,1.72,0.07],[14.69,1.78,0.07],[14.67,1.74,0.07],[14.65,1.71,0.07],[14.63,1.77,0.07],[14.61,1.73,0.07],[14.59,1.79,0.07],[14.57,1.76,0.07],[14.55,1.73,0.07],
[14.53,1.81,0.07],[14.51,1.77,0.07],[14.49,1.74,0.07],[14.47,1.80,0.07],[14.45,1.84,0.07],[14.43,1.78,0.07],[14.41,1.83,0.07],[14.39,1.79,0.07],[14.37,1.86,0.07],[14.35,1.81,0.07],
[14.33,1.77,0.07],[14.31,1.84,0.07],[14.29,1.80,0.07],[14.27,1.88,0.07],[14.25,1.83,0.07],[14.23,1.79,0.07],[14.21,1.86,0.07],[14.19,1.82,0.06],[14.17,1.89,0.06],[14.15,1.85,0.06],
[14.13,1.80,0.06],[14.11,1.88,0.06],[14.09,1.84,0.06],[14.07,1.92,0.06],[14.05,1.81,0.06],[14.03,1.87,0.06],[14.01,1.90,0.06],[13.97,1.85,0.06],[13.93,1.89,0.06],[13.89,1.86,0.06],
[13.85,1.83,0.06],[13.81,1.90,0.06],[13.77,1.84,0.06],[13.73,1.88,0.06],[13.69,1.85,0.06],[13.65,1.90,0.06],[13.61,1.83,0.06],[13.57,1.88,0.06],[13.53,1.84,0.06],[13.49,1.92,0.06],
[13.45,1.86,0.06],[13.41,1.93,0.06]
];
const green3 = [
[15.62,1.75],[15.59,1.75],[15.52,1.75],[15.48,1.75],[15.14,1.75],[15.10,1.75],[15.06,1.75],[15.03,1.75],[14.97,1.75],[14.92,1.75],
[14.86,1.75],[14.79,1.75],[14.73,1.75],[14.68,1.75],[14.64,1.75],[14.60,1.75],[14.55,1.75],[14.50,1.75],[14.46,1.75],[14.42,1.75],
[14.38,1.75],[14.30,1.75],[14.22,1.75],[14.15,1.75],[13.94,1.75],[13.85,1.75],[13.80,1.75],[13.71,1.75],[13.66,1.75],[13.52,1.75],
[13.50,1.75],[13.40,1.75],[13.38,1.75],[13.15,1.75],[13.04,1.75],[12.86,1.75],[12.81,1.75],[11.99,1.75],[11.95,1.75],[11.91,1.75],[11.89,1.75],
[15.62,1.724],[15.38,1.72],[15.31,1.72],[15.52,1.634],[15.54,1.611],[15.56,1.589],[15.52,1.579],[15.52,1.55],[15.61,1.544],[15.48,1.498],
[15.54,1.454],[15.44,1.439],[15.37,1.454],[15.34,1.507],[15.17,1.68],[15.16,1.728],[15.17,1.459],[15.11,1.537],[15.06,1.507],[15.10,1.574],
[15.06,1.602],[15.03,1.545],[15.01,1.673],[14.99,1.788],[14.97,1.657],[14.97,1.609],[14.92,1.618],[14.90,1.522],[14.86,1.634],[14.79,1.449],
[14.76,1.657],[14.70,1.489],[14.65,1.68],[14.65,1.66],[14.64,1.64],[14.57,1.828],[14.54,1.63],[14.50,1.729],[14.46,1.816],[14.10,1.961],
[14.07,1.874],[13.97,1.878],[13.91,1.874],[13.86,1.952],[13.84,1.894],[13.80,1.882],[13.71,1.928],[13.71,1.865],[13.45,1.896],[13.98,1.805],
[13.90,1.807],[13.74,1.798],[13.63,1.826],[13.53,1.834],[13.71,1.776],[13.51,1.783],[14.09,1.734],[13.98,1.763],[13.82,1.634],[13.96,1.466],
[13.08,1.905],[13.00,2.022],[12.77,2.037],[12.63,2.027],[12.29,2.002],[13.02,1.834],[12.99,1.834],[13.04,1.789],[13.00,1.77],[12.77,1.913],
[12.67,1.863],[13.04,1.755]
];

// ---------- layout ----------
const plotLeft = 270, plotRight = 2633, plotH = 984;
const fontStack = "'Liberation Sans', Arial, Helvetica, sans-serif";
const fontSize = 83;
const grayCol = "#999999", greenCol = "#00ff00", redCol = "#ff0000";

const panels = [
  {top: 21,   xDomain: [17.5, 12], yDomain: [0.0, 1.2],  xTicks: xTicks1, yTicks: yTicks1,
   gray: gray1, green: green1, lin: linFit1, quad: quadFit1, ref: refLevel1,
   xTitle: "V = i", yTitle: "B-V = r-i"},
  {top: 1281, xDomain: [16.5, 11], yDomain: [0.4, 1.6],  xTicks: xTicks2, yTicks: yTicks2,
   gray: gray2, green: green2, lin: linFit2, quad: quadFit2, ref: refLevel2,
   xTitle: "I = y", yTitle: "V-I = i-y"},
  {top: 2541, xDomain: [16.5, 11], yDomain: [1.05, 2.25], xTicks: xTicks3, yTicks: yTicks3,
   gray: gray3, green: green3, lin: linFit3, quad: quadFit3, ref: refLevel3,
   xTitle: "I = y", yTitle: "B-I = r-y"}
];

const svg = d3.select("svg");
svg.append("rect").attr("width", 2681).attr("height", 3743).attr("fill", "#fff");

panels.forEach((p, i) => {
  const x = d3.scaleLinear().domain(p.xDomain).range([plotLeft, plotRight]);
  const y = d3.scaleLinear().domain(p.yDomain).range([p.top + plotH, p.top]);
  const g = svg.append("g");

  const clipId = "clip" + i;
  svg.append("clipPath").attr("id", clipId)
    .append("rect").attr("x", plotLeft).attr("y", p.top)
    .attr("width", plotRight - plotLeft).attr("height", plotH);
  const plot = g.append("g").attr("clip-path", `url(#${clipId})`);

  // reference level
  plot.append("line")
    .attr("x1", plotLeft).attr("x2", plotRight)
    .attr("y1", y(p.ref)).attr("y2", y(p.ref))
    .attr("stroke", redCol).attr("stroke-width", 7)
    .attr("stroke-dasharray", "40,38");

  // error bars
  plot.append("g").selectAll("line").data(p.gray).join("line")
    .attr("x1", d => x(d[0])).attr("x2", d => x(d[0]))
    .attr("y1", d => y(d[1] - d[2])).attr("y2", d => y(d[1] + d[2]))
    .attr("stroke", grayCol).attr("stroke-width", 2.7);

  // open circles
  plot.append("g").selectAll("circle").data(p.gray).join("circle")
    .attr("cx", d => x(d[0])).attr("cy", d => y(d[1])).attr("r", 11.5)
    .attr("fill", "none").attr("stroke", grayCol).attr("stroke-width", 3.6);

  // fits
  const line = d3.line().x(d => x(d[0])).y(d => y(d[1]));
  plot.append("path").datum(p.lin).attr("d", line)
    .attr("fill", "none").attr("stroke", "#000").attr("stroke-width", 7);
  plot.append("path").datum(p.quad).attr("d", line.curve(d3.curveCatmullRom))
    .attr("fill", "none").attr("stroke", "#000").attr("stroke-width", 7);

  // green plus symbols
  plot.append("g").selectAll("path").data(p.green).join("path")
    .attr("transform", d => `translate(${x(d[0])},${y(d[1])})`)
    .attr("d", "M-9.5,0H9.5M0,-9.5V9.5")
    .attr("stroke", greenCol).attr("stroke-width", 6.5);

  // axes
  const bottomY = p.top + plotH;
  const xMinor = d3.range(Math.round(p.xDomain[1] * 10), Math.round(p.xDomain[0] * 10) + 1)
    .map(v => v / 10).filter(v => Math.abs(v - Math.round(v)) > 1e-6);
  const yMinor = d3.range(Math.round(p.yDomain[0] * 20), Math.round(p.yDomain[1] * 20) + 1)
    .map(v => v / 20);

  const styleAxis = sel => {
    sel.select(".domain").remove();
    sel.selectAll(".tick line").attr("stroke", "#000").attr("stroke-width", 3.5);
    sel.attr("font-family", fontStack).attr("font-size", fontSize);
    sel.selectAll(".tick text").attr("fill", "#000");
  };

  g.append("g").attr("transform", `translate(0,${bottomY})`)
    .call(d3.axisBottom(x).tickValues(p.xTicks).tickFormat(d3.format("d"))
      .tickSizeInner(-20).tickSizeOuter(0).tickPadding(50))
    .call(styleAxis);
  g.append("g").attr("transform", `translate(0,${bottomY})`)
    .call(d3.axisBottom(x).tickValues(xMinor).tickFormat("").tickSizeInner(-10).tickSizeOuter(0))
    .call(styleAxis);
  g.append("g").attr("transform", `translate(0,${p.top})`)
    .call(d3.axisTop(x).tickValues(p.xTicks).tickFormat("").tickSizeInner(-20).tickSizeOuter(0))
    .call(styleAxis);
  g.append("g").attr("transform", `translate(0,${p.top})`)
    .call(d3.axisTop(x).tickValues(xMinor).tickFormat("").tickSizeInner(-10).tickSizeOuter(0))
    .call(styleAxis);

  g.append("g").attr("transform", `translate(${plotLeft},0)`)
    .call(d3.axisLeft(y).tickValues(p.yTicks).tickFormat(d3.format(".1f"))
      .tickSizeInner(-47).tickSizeOuter(0).tickPadding(25))
    .call(styleAxis)
    .call(sel => sel.selectAll(".tick text")
      .attr("dy", d => Math.abs(d - p.yDomain[1]) < 1e-9 ? 55
                    : Math.abs(d - p.yDomain[0]) < 1e-9 ? 6 : 30));
  g.append("g").attr("transform", `translate(${plotLeft},0)`)
    .call(d3.axisLeft(y).tickValues(yMinor).tickFormat("").tickSizeInner(-24).tickSizeOuter(0))
    .call(styleAxis);
  g.append("g").attr("transform", `translate(${plotRight},0)`)
    .call(d3.axisRight(y).tickValues(p.yTicks).tickFormat("").tickSizeInner(-47).tickSizeOuter(0))
    .call(styleAxis);
  g.append("g").attr("transform", `translate(${plotRight},0)`)
    .call(d3.axisRight(y).tickValues(yMinor).tickFormat("").tickSizeInner(-24).tickSizeOuter(0))
    .call(styleAxis);

  // frame
  g.append("rect")
    .attr("x", plotLeft).attr("y", p.top)
    .attr("width", plotRight - plotLeft).attr("height", plotH)
    .attr("fill", "none").attr("stroke", "#000").attr("stroke-width", 3.5);

  // titles
  g.append("text")
    .attr("x", (plotLeft + plotRight) / 2).attr("y", bottomY + 195)
    .attr("text-anchor", "middle").attr("font-family", fontStack)
    .attr("font-size", fontSize).attr("font-style", "italic")
    .text(p.xTitle);
  const cy = p.top + plotH / 2;
  g.append("text")
    .attr("transform", `translate(77,${cy}) rotate(-90)`)
    .attr("text-anchor", "middle").attr("font-family", fontStack)
    .attr("font-size", fontSize).attr("font-style", "italic")
    .text(p.yTitle);
});
</script>
</body>
</html>
